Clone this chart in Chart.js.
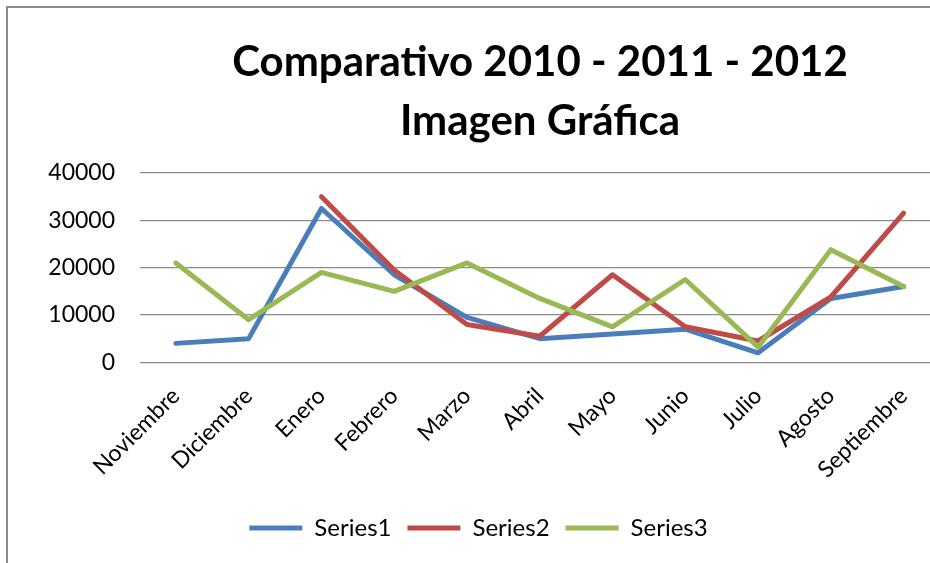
<!DOCTYPE html>
<html>
<head>
<meta charset="utf-8">
<script src="https://cdn.jsdelivr.net/npm/chart.js@4/dist/chart.umd.min.js"></script>
<style>
  html, body { margin: 0; padding: 0; background: #fff; width: 930px; height: 563px; overflow: hidden; }
  #wrap { position: relative; width: 930px; height: 563px; overflow: hidden; }
  #frame { position: absolute; left: 6px; top: 6px; width: 1200px; height: 800px; border-left: 2px solid #8c8c8c; border-top: 2px solid #8c8c8c; box-sizing: border-box; }
  #c { position: absolute; left: 0; top: 0; }
  #title { position: absolute; left: 190px; width: 700px; top: 31px; text-align: center; font-family: Lato, sans-serif; font-weight: bold; font-size: 42px; line-height: 59px; color: #000; white-space: nowrap; }
</style>
</head>
<body>
<div id="wrap">
  <div id="frame"></div>
  <canvas id="c" width="1000" height="563"></canvas>
  <div id="title">Comparativo 2010 - 2011 - 2012<br>Imagen Gráfica</div>
</div>
<script>
const categories = ['Noviembre','Diciembre','Enero','Febrero','Marzo','Abril','Mayo','Junio','Julio','Agosto','Septiembre'];
const series1 = [4000, 5000, 32500, 18500, 9500, 5000, 6000, 7000, 2000, 13500, 16000];
const series2 = [null, null, 35000, 19500, 8000, 5500, 18500, 7500, 4500, 13800, 31500];
const series3 = [21000, 9000, 19000, 15000, 21000, 13500, 7500, 17500, 3200, 23800, 16000];
const seriesNames = ['Series1','Series2','Series3'];
const yTicks = [0, 10000, 20000, 30000, 40000];
const yTickLabels = ['0', '10000', '20000', '30000', '40000'];

const colors = ['#4A7EBB', '#BE4B48', '#98B954'];
const font = 'Lato, sans-serif';

function ds(label, data, color, order) {
  return {
    label, data, order,
    borderColor: color, backgroundColor: color,
    borderWidth: 5, pointRadius: 0, pointHoverRadius: 0,
    tension: 0, borderJoinStyle: 'round', borderCapStyle: 'round',
    spanGaps: false, fill: false
  };
}

new Chart(document.getElementById('c'), {
  type: 'line',
  data: {
    labels: categories,
    datasets: [
      ds(seriesNames[0], series1, colors[0], 3),
      ds(seriesNames[1], series2, colors[1], 2),
      ds(seriesNames[2], series3, colors[2], 1)
    ]
  },
  options: {
    responsive: false,
    animation: false,
    devicePixelRatio: 1,
    layout: { padding: { left: 17, right: 60, top: 173, bottom: 13 } },
    plugins: {
      title: { display: false },
      tooltip: { enabled: false },
      legend: {
        position: 'bottom',
        sort: (a, b) => a.datasetIndex - b.datasetIndex,
        labels: {
          boxWidth: 53, boxHeight: 5, padding: 16,
          color: '#000',
          font: { family: font, size: 24 },
          generateLabels: (chart) => chart.data.datasets.map((d, i) => ({
            text: d.label, fillStyle: d.borderColor, strokeStyle: d.borderColor,
            lineWidth: 0, hidden: false, datasetIndex: i, fontColor: '#000'
          }))
        }
      }
    },
    scales: {
      x: {
        offset: true,
        grid: { display: false, drawTicks: false },
        border: { display: false },
        ticks: { color: '#000', font: { family: font, size: 23 }, maxRotation: 45, minRotation: 45, padding: 20, autoSkip: false },
        afterFit: (s) => { s.height = 137.7; }
      },
      y: {
        min: 0, max: 40000,
        afterBuildTicks: (s) => { s.ticks = yTicks.map(v => ({ value: v })); },
        grid: { color: '#8a8a8a', lineWidth: 1.3, drawTicks: false },
        border: { display: false },
        ticks: {
          color: '#000', font: { family: font, size: 23 }, padding: 24.5,
          callback: (v) => yTickLabels[yTicks.indexOf(v)]
        },
        afterFit: (s) => { s.width = 122.5; }
      }
    }
  }
});
</script>
</body>
</html>
